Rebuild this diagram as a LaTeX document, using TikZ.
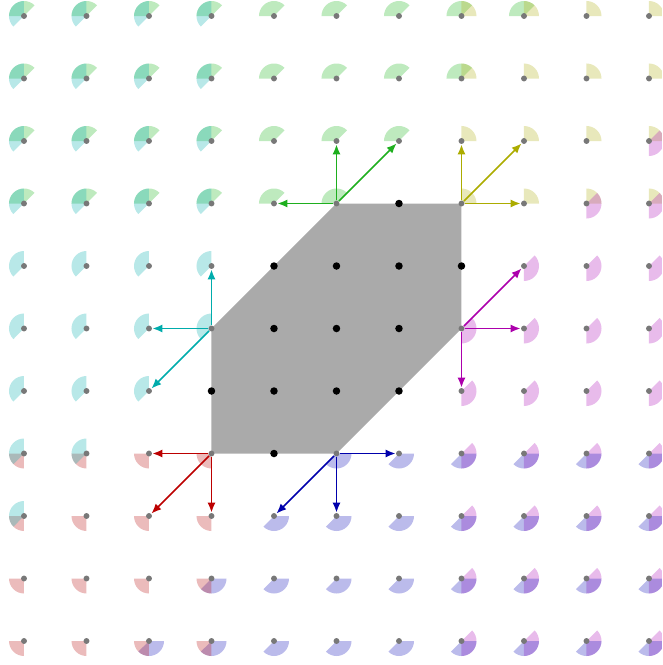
\documentclass[tikz,border=0pt]{standalone}
\usetikzlibrary{arrows.meta}
\definecolor{cgreen}{RGB}{30,175,30}
\definecolor{cyellow}{RGB}{172,172,0}
\definecolor{cmag}{RGB}{172,0,172}
\definecolor{cblue}{RGB}{0,0,172}
\definecolor{cred}{RGB}{188,0,0}
\definecolor{cteal}{RGB}{0,172,172}
\definecolor{wgreen}{RGB}{40,185,40}
\definecolor{wyellow}{RGB}{180,180,30}
\definecolor{wmag}{RGB}{180,30,190}
\definecolor{wblue}{RGB}{30,30,190}
\definecolor{wred}{RGB}{190,30,30}
\definecolor{wteal}{RGB}{20,180,180}
\definecolor{dotgray}{RGB}{120,120,120}
\definecolor{polygray}{RGB}{170,170,170}
\newcommand\conewedge[5]{%
  \ifnum\numexpr#1\relax<0 \else\ifnum\numexpr#2\relax<0 \else
    \fill[#5,fill opacity=0.3] (\x,\y) -- ++(#3:0.24) arc[start angle=#3,end angle=#4,radius=0.24] -- cycle;
  \fi\fi}
\begin{document}
\begin{tikzpicture}[x=1cm,y=1cm,
  gdot/.style={circle,fill=dotgray,inner sep=0pt,minimum size=0.095cm},
  bdot/.style={circle,fill=black,inner sep=0pt,minimum size=0.12cm},
  arr/.style={-{Latex[length=1.6mm,width=1.3mm]},line width=0.75pt}]
\clip (-0.384,-0.384) rectangle (10.208,10.256);
% cone wedges
\foreach \x in {0,...,10}{\foreach \y in {0,...,10}{
  \conewedge{\y-7}{(\y-7)-(\x-5)}{45}{180}{wgreen}
  \conewedge{\x-7}{\y-7}{0}{90}{wyellow}
  \conewedge{\x-7}{(\x-7)-(\y-5)}{-90}{45}{wmag}
  \conewedge{3-\y}{(\x-5)-(\y-3)}{225}{360}{wblue}
  \conewedge{3-\x}{3-\y}{180}{270}{wred}
  \conewedge{3-\x}{(\y-5)-(\x-3)}{90}{225}{wteal}
}}
% polygon
\fill[polygray] (5,7) -- (7,7) -- (7,5) -- (5,3) -- (3,3) -- (3,5) -- cycle;
% lattice dots
\foreach \x in {0,...,10}{\foreach \y in {0,...,10}{
  \node[gdot] (d-\x-\y) at (\x,\y) {};
}}
\foreach \a/\b in {6/7,4/6,5/6,6/6,7/6,4/5,5/5,6/5,3/4,4/4,5/4,6/4,4/3}{
  \node[bdot] (b-\a-\b) at (\a,\b) {};
}
% arrows
\draw[arr,cgreen] (d-5-7) -- (d-5-8);
\draw[arr,cgreen] (d-5-7) -- (d-4-7);
\draw[arr,cgreen] (d-5-7) -- (d-6-8);
\draw[arr,cyellow] (d-7-7) -- (d-7-8);
\draw[arr,cyellow] (d-7-7) -- (d-8-7);
\draw[arr,cyellow] (d-7-7) -- (d-8-8);
\draw[arr,cmag] (d-7-5) -- (d-8-5);
\draw[arr,cmag] (d-7-5) -- (d-7-4);
\draw[arr,cmag] (d-7-5) -- (d-8-6);
\draw[arr,cblue] (d-5-3) -- (d-6-3);
\draw[arr,cblue] (d-5-3) -- (d-5-2);
\draw[arr,cblue] (d-5-3) -- (d-4-2);
\draw[arr,cred] (d-3-3) -- (d-2-3);
\draw[arr,cred] (d-3-3) -- (d-3-2);
\draw[arr,cred] (d-3-3) -- (d-2-2);
\draw[arr,cteal] (d-3-5) -- (d-3-6);
\draw[arr,cteal] (d-3-5) -- (d-2-5);
\draw[arr,cteal] (d-3-5) -- (d-2-4);
\end{tikzpicture}
\end{document}
